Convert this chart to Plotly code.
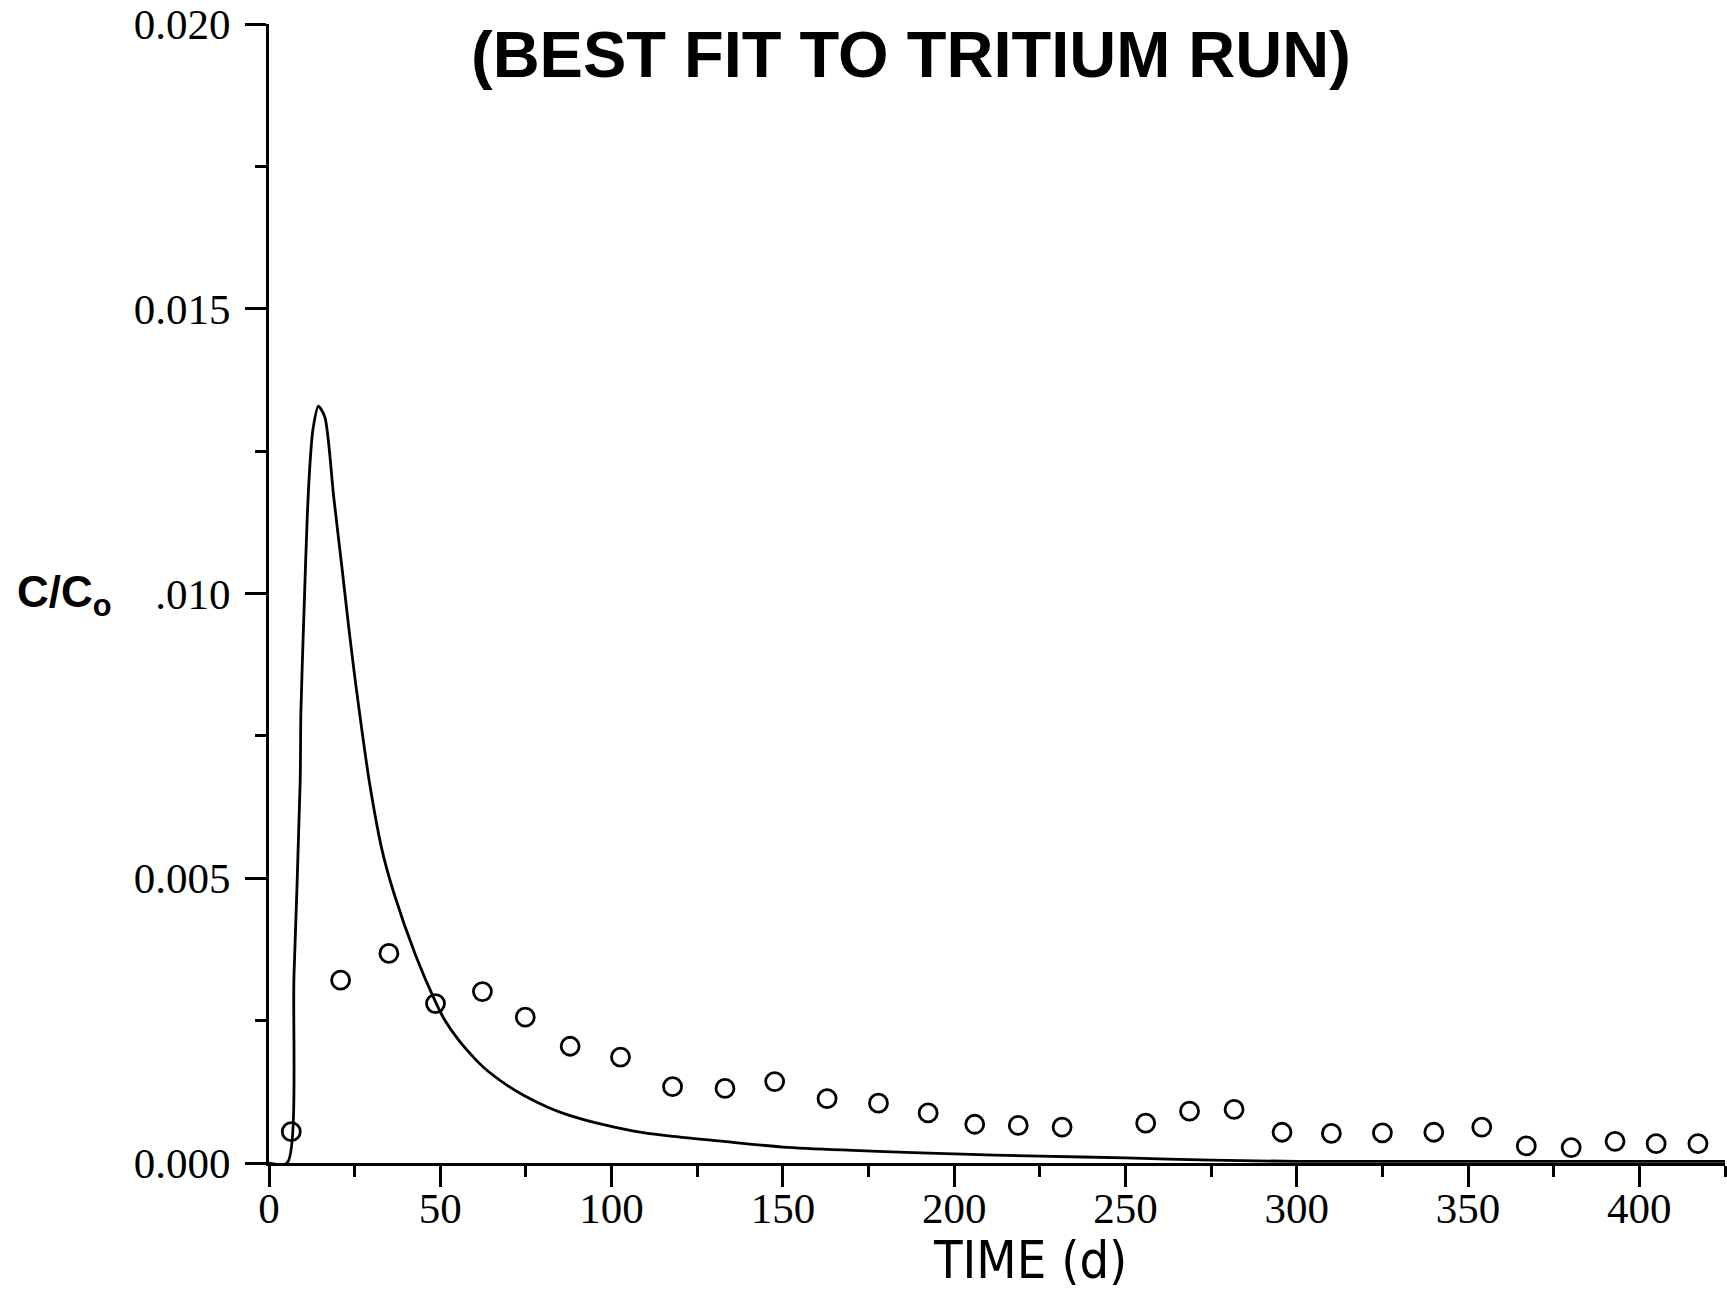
import plotly.graph_objects as go

# Observed tritium breakthrough (relative concentration C/Co vs time in days)
obs_days = [6.5, 20.9, 35.0, 48.6, 62.3, 74.8, 87.9, 102.6, 117.8, 133.1,
            147.6, 162.9, 177.9, 192.4, 206.0, 218.7, 231.5, 255.9, 268.7, 281.7,
            295.7, 310.1, 325.0, 340.0, 354.0, 367.0, 380.1, 392.9, 404.9, 417.1]
obs_conc = [0.00055, 0.00321, 0.00368, 0.00280, 0.00301, 0.00256, 0.00205, 0.00186, 0.00134, 0.00131,
            0.00143, 0.00113, 0.00105, 0.00088, 0.00068, 0.00066, 0.00063, 0.00070, 0.00091, 0.00094,
            0.00054, 0.00052, 0.00053, 0.00054, 0.00063, 0.00030, 0.00027, 0.00038, 0.00034, 0.00034]

# Best-fit model curve
fit_days = [0.0, 5.3, 7.3, 9.1, 9.3, 10.2, 11.2, 12.1, 12.8, 14.4, 16.3, 18.9, 21.4, 23.4,
            25.2, 27.3, 29.3, 32.9, 36.4, 42.9, 48.6, 51.2, 55.2, 59.8, 63.0, 68.9, 74.3, 81.7,
            87.0, 96.4, 106.5, 116.0, 132.7, 150.0, 200.0, 225.0, 250.0, 275.0, 300.0,
            350.0, 425.0]
fit_conc = [0.0, 0.0, 0.0033, 0.0067, 0.0079, 0.00965, 0.0114, 0.0124, 0.01287, 0.01329, 0.0131, 0.01169,
            0.0104, 0.00934, 0.00846, 0.00752, 0.00669, 0.00552, 0.00475, 0.00363, 0.00283, 0.00252,
            0.00217, 0.00185, 0.00166, 0.00139, 0.00119, 0.00097, 0.00085, 0.00069, 0.00056, 0.00048,
            0.00038, 0.00028, 0.00016, 0.00012, 0.00009, 0.00005, 0.00003, 0.00003, 0.00003]

x_tickvals = [0, 50, 100, 150, 200, 250, 300, 350, 400]
x_ticktext = ["0", "50", "100", "150", "200", "250", "300", "350", "400"]
y_tickvals = [0.0, 0.005, 0.010, 0.015, 0.020]
y_ticktext = ["0.000", "0.005", ".010", "0.015", "0.020"]

INK = "#000000"
LABEL_FONT = "Liberation Serif, Times New Roman, serif"

fig = go.Figure()

fig.add_trace(go.Scatter(
    x=fit_days, y=fit_conc, mode="lines",
    line=dict(color=INK, width=2.8, shape="spline", smoothing=0.7),
    showlegend=False, cliponaxis=False,
))

fig.add_trace(go.Scatter(
    x=obs_days, y=obs_conc, mode="markers",
    marker=dict(symbol="circle-open", size=18, color=INK, line=dict(color=INK, width=2.8)),
    showlegend=False, cliponaxis=False,
))

axis_common = dict(
    showgrid=False, zeroline=False, showline=True,
    linecolor=INK, linewidth=3,
    ticks="outside", tickcolor=INK, tickwidth=2.8, ticklen=21,
)

fig.update_xaxes(
    range=[0, 425], tickmode="array", tickvals=x_tickvals, ticktext=x_ticktext,
    minor=dict(dtick=25, tick0=0, ticks="outside", ticklen=11, tickwidth=2.8, tickcolor=INK),
    tickfont=dict(family=LABEL_FONT, size=43, color=INK),
    ticklabelstandoff=-16,
    **axis_common,
)
fig.update_yaxes(
    range=[0, 0.020], tickmode="array", tickvals=y_tickvals, ticktext=y_ticktext,
    minor=dict(dtick=0.0025, tick0=0, ticks="outside", ticklen=11, tickwidth=2.8, tickcolor=INK),
    tickfont=dict(family=LABEL_FONT, size=43, color=INK),
    ticklabelstandoff=6,
    **axis_common,
)

fig.add_annotation(
    text="<b>(BEST FIT TO TRITIUM RUN)</b>",
    xref="paper", yref="paper", x=0.441, y=0.973,
    xanchor="center", yanchor="middle", showarrow=False,
    font=dict(family="Liberation Sans, Arial, sans-serif", size=65, color=INK),
)
fig.add_annotation(
    text="TIME (d)",
    xref="paper", yref="paper", x=0.5227, y=-0.085,
    xanchor="center", yanchor="middle", showarrow=False,
    font=dict(family="DejaVu Sans Condensed, Liberation Sans Narrow, Arial Narrow, sans-serif",
              size=52, color=INK),
)
fig.add_annotation(
    text="<b>C/C<sub>o</sub></b>",
    xref="paper", yref="paper", x=-0.1745, y=0.4987,
    xanchor="left", yanchor="middle", showarrow=False,
    font=dict(family="Liberation Sans, Arial, sans-serif", size=44, color=INK),
)

fig.update_layout(
    width=1727, height=1290,
    margin=dict(l=269, r=2, t=24, b=127),
    paper_bgcolor="white", plot_bgcolor="white",
)

fig.write_html("out.html")
